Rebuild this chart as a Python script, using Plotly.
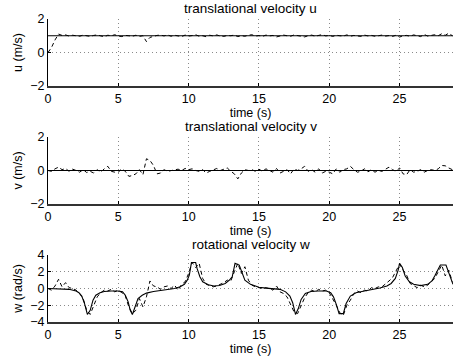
import numpy as np
import plotly.graph_objects as go
from plotly.subplots import make_subplots

# ---- data ----
dt = 0.25
u_meas = [0.0, 0.3, 0.75, 1.1, 1.02, 1.05, 0.98, 1.03, 1.0, 0.97, 1.04, 1.0,
          0.96, 1.02, 1.05, 0.99, 0.94, 1.03, 1.0, 1.06, 0.98, 0.95, 1.02, 1.0,
          0.97, 1.03, 0.96, 1.0, 0.65, 0.9, 0.97, 1.02, 1.04, 0.99, 1.05, 0.97,
          1.03, 1.0, 0.95, 1.04, 0.98, 1.01, 1.06, 0.97, 1.0, 0.94, 1.03, 0.99,
          1.05, 0.98, 0.96, 1.02, 1.0, 1.04, 0.95, 1.0, 0.97, 1.03, 1.06, 0.98,
          1.01, 0.96, 1.04, 0.99, 1.02, 0.93, 0.98, 1.04, 1.0, 0.97, 1.05, 1.02,
          0.98, 0.93, 1.0, 1.04, 0.97, 1.03, 1.07, 0.99, 1.02, 0.96, 1.03, 1.0,
          0.98, 1.05, 0.97, 1.02, 1.0, 0.96, 1.04, 0.99, 1.02, 0.97, 1.0, 1.04,
          0.98, 1.01, 0.96, 1.03, 0.92, 1.0, 1.02, 0.97, 1.05, 1.0, 0.95, 1.08,
          0.98, 1.02, 1.06, 1.0, 1.12, 1.03, 1.15, 1.0]
v_meas = [0.0, -0.05, 0.1, 0.2, 0.05, 0.12, -0.05, 0.08, 0.0, -0.1, 0.05, -0.12,
          -0.05, -0.15, 0.05, -0.1, 0.1, 0.25, -0.05, -0.1, -0.1, 0.1, -0.05, -0.35,
          -0.3, -0.2, 0.05, -0.25, 0.7, 0.6, 0.3, -0.2, -0.15, 0.05, -0.05, 0.0,
          0.05, 0.08, 0.0, 0.12, 0.05, 0.1, 0.0, -0.05, 0.05, -0.15, -0.05, 0.05,
          0.12, 0.0, 0.08, 0.15, -0.05, -0.2, -0.5, -0.15, 0.05, 0.0, 0.05, -0.05,
          0.08, -0.05, 0.1, 0.0, -0.1, 0.12, -0.15, -0.05, 0.05, -0.2, 0.1, 0.0,
          0.1, 0.25, -0.05, 0.05, -0.1, 0.1, -0.15, -0.05, -0.1, -0.2, 0.1, -0.1,
          0.05, 0.1, 0.25, 0.05, -0.1, -0.05, 0.1, -0.08, 0.05, -0.1, 0.0, -0.05,
          0.1, 0.2, 0.05, -0.05, 0.15, -0.2, -0.25, 0.05, -0.1, -0.05, 0.05, -0.1,
          0.0, 0.05, 0.0, 0.1, 0.3, 0.28, 0.15, 0.05]
w_meas = [0.0, -0.2, 0.3, 1.1, 0.2, 0.7, 0.1, 0.0, -0.2, -0.6, -1.2, -2.6,
          -3.1, -2.0, -1.0, -0.5, -0.2, -0.3, -0.1, -0.4, -0.2, -0.5, -0.9, -2.2,
          -3.0, -2.6, -1.2, -2.2, -1.0, 0.9, 0.3, 0.2, -0.1, 0.2, 0.3, 0.0,
          0.4, -0.2, 0.5, 0.8, 1.8, 3.1, 2.5, 3.0, 1.2, 0.5, 0.3, 0.2,
          0.3, 0.5, 0.7, 1.0, 0.9, 2.0, 3.0, 1.8, 2.6, 1.0, 0.4, 0.2,
          0.1, 0.0, 0.1, 0.0, -0.2, 0.3, -0.4, -0.6, -1.0, -2.0, -2.8, -3.0,
          -2.0, -1.1, -0.5, -0.2, -0.4, -0.1, -0.3, -0.2, -0.5, -1.2, -2.0, -2.9,
          -3.2, -2.0, -1.4, -0.6, -0.3, -0.5, -0.2, -0.3, 0.1, 0.0, 0.2, 0.2,
          0.5, 0.9, 1.3, 2.2, 2.9, 2.2, 1.6, 0.6, 0.3, 0.1, 0.4, 0.2,
          0.4, 0.8, 1.2, 2.0, 2.8, 1.5, 2.2, 0.8]

t_ref = [0, 28.8]
u_ref = [1, 1]
v_ref = [0, 0]
t_wref = [0, 1.0, 1.5, 2.0, 2.2, 2.4, 2.6, 2.8, 3.0, 3.2, 3.4, 3.7, 4.0, 4.5, 5.0,
          5.3, 5.5, 5.7, 5.85, 6.0, 6.2, 6.4, 6.7, 7.0, 7.5, 8.0, 8.5, 9.0, 9.4,
          9.7, 9.9, 10.05, 10.2, 10.5, 10.6, 10.8, 11.0, 11.4, 11.8, 12.2, 12.6,
          12.9, 13.1, 13.3, 13.6, 13.8, 14.0, 14.4, 15.0, 15.5, 16.0, 16.5, 16.9,
          17.2, 17.4, 17.6, 17.8, 18.0, 18.3, 18.7, 19.2, 19.8, 20.1, 20.3, 20.5,
          20.7, 21.0, 21.2, 21.5, 21.9, 22.5, 23.0, 23.6, 24.1, 24.4, 24.7, 24.9,
          25.0, 25.2, 25.4, 25.7, 26.0, 26.5, 27.0, 27.3, 27.5, 27.7, 27.9, 28.3,
          28.5, 28.7, 28.8]
w_ref = [0.0, -0.05, -0.1, -0.3, -0.5, -0.9, -1.8, -3.1, -2.6, -1.4, -0.8, -0.5, -0.35, -0.3, -0.3,
         -0.4, -0.8, -1.6, -2.6, -3.1, -2.0, -1.2, -0.8, -0.55, -0.35, -0.25, -0.15, 0.0, 0.2,
         0.5, 1.0, 1.6, 3.1, 3.1, 2.4, 1.4, 0.8, 0.45, 0.3, 0.35, 0.6,
         1.0, 1.4, 3.0, 2.8, 1.8, 1.0, 0.5, 0.15, 0.05, 0.0, -0.1, -0.4,
         -0.9, -1.7, -3.1, -2.4, -1.3, -0.6, -0.35, -0.3, -0.3, -0.5, -1.0, -1.9,
         -3.0, -3.0, -1.8, -0.9, -0.5, -0.3, -0.15, 0.05, 0.3, 0.6, 1.2, 2.2,
         3.0, 2.5, 1.5, 0.8, 0.5, 0.35, 0.5, 0.9, 1.5, 2.2, 2.8, 2.8,
         1.8, 0.8, 0.5]

x_ticks = [0, 5, 10, 15, 20, 25]
titles = ["translational velocity u", "translational velocity v", "rotational velocity w"]
ylabels = ["u (m/s)", "v (m/s)", "w (rad/s)"]

t_meas = np.arange(len(w_meas)) * dt

fig = make_subplots(rows=3, cols=1)
fam = "Liberation Sans, Arial, sans-serif"
font = dict(family=fam, size=12.5, color="black")
tfont = dict(family=fam, size=13.5, color="black")

series = [(u_ref, u_meas), (v_ref, v_meas)]
for i, (ref, meas) in enumerate(series, start=1):
    fig.add_trace(go.Scatter(x=t_ref, y=ref, mode="lines", line=dict(color="black", width=1.1)), row=i, col=1)
    fig.add_trace(go.Scatter(x=t_meas, y=meas, mode="lines", line=dict(color="black", width=1, dash="4px,3px")), row=i, col=1)
fig.add_trace(go.Scatter(x=t_wref, y=w_ref, mode="lines", line=dict(color="black", width=1.1)), row=3, col=1)
fig.add_trace(go.Scatter(x=t_meas, y=w_meas, mode="lines", line=dict(color="black", width=1, dash="4px,3px")), row=3, col=1)

domains = [[0.779, 1.0], [0.3894, 0.6106], [0.0, 0.2211]]
yranges = [[-2, 2], [-2, 2], [-4, 4]]
yticks = [[-2, 0, 2], [-2, 0, 2], [-4, -2, 0, 2, 4]]
for i in range(3):
    k = "" if i == 0 else str(i + 1)
    fig.layout["xaxis" + k].update(
        domain=[0, 1], range=[0, 28.8], tickvals=x_ticks, ticks="inside", ticklen=3,
        tickcolor="black", showline=True, linecolor="#333333", linewidth=1.5,
        showgrid=True, gridcolor="#8a8a8a", griddash="1px,3px", gridwidth=1, zeroline=False,
        title=dict(text="time (s)", font=font, standoff=2), tickfont=font)
    fig.layout["yaxis" + k].update(
        domain=domains[i], range=yranges[i], tickvals=yticks[i], ticks="inside", ticklen=3,
        tickcolor="black", showline=True, linecolor="black", linewidth=1,
        showgrid=True, gridcolor="#8a8a8a", griddash="1px,3px", gridwidth=1, zeroline=False,
        title=dict(text=ylabels[i], font=font, standoff=4), tickfont=font)
    fig.add_annotation(text=titles[i], xref="paper", yref="paper", x=0.5,
                       y=domains[i][1], yshift=1, yanchor="bottom", showarrow=False, font=tfont)

fig.update_layout(width=453, height=359, margin=dict(l=48, r=0, t=19, b=37),
                  showlegend=False, plot_bgcolor="white", paper_bgcolor="white")
fig.write_html("out.html")
